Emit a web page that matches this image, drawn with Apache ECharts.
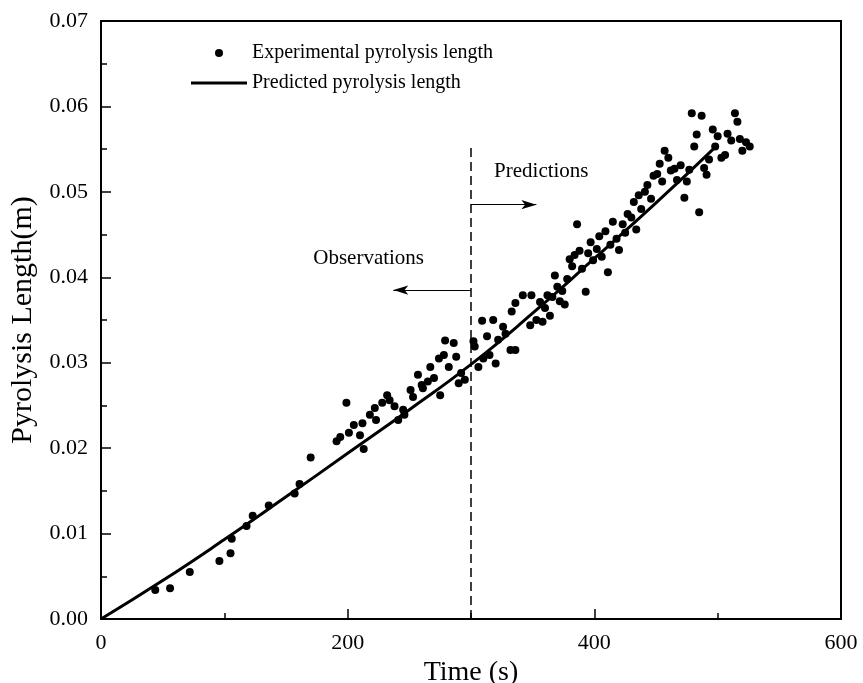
<!DOCTYPE html>
<html><head><meta charset="utf-8">
<script src="https://cdn.jsdelivr.net/npm/echarts@6/dist/echarts.min.js"></script>
<style>html,body{margin:0;padding:0;background:#fff}#c{width:863px;height:683px}</style>
</head><body><div id="c"></div>
<script>
const FONT = "'Liberation Serif','Times New Roman',serif";
const expName = 'Experimental pyrolysis length';
const predName = 'Predicted pyrolysis length';

// Experimental points [time (s), length (m)]
const experimentalPoints = [
  [44,0.0034],[56,0.0036],[72,0.0055],[96,0.0068],[105,0.0077],[106,0.0094],[118,0.0109],
  [123,0.0121],[136,0.0133],[157,0.0147],[161,0.0158],[170,0.0189],[191,0.0208],[194,0.0213],
  [199,0.0253],[201,0.0218],[205,0.0227],[210,0.0215],[212,0.0229],[213,0.0199],[218,0.0239],
  [222,0.0247],[223,0.0233],[228,0.0253],[232,0.0262],[234,0.0256],[238,0.0249],[241,0.0233],
  [245,0.0245],[246,0.0239],[251,0.0268],[253,0.0260],[257,0.0286],[260,0.0274],[261,0.0270],
  [265,0.0278],[267,0.0295],[270,0.0282],[274,0.0305],[275,0.0262],[278,0.0309],[279,0.0326],
  [282,0.0295],[286,0.0323],[288,0.0307],[290,0.0276],[292,0.0288],[295,0.0280],[302,0.0325],
  [303,0.0319],[306,0.0295],[309,0.0349],[310,0.0305],[313,0.0331],[315,0.0309],[318,0.0350],
  [320,0.0299],[322,0.0327],[326,0.0342],[328,0.0334],[332,0.0315],[333,0.0360],[336,0.0315],
  [336,0.0370],[342,0.0379],[348,0.0344],[349,0.0379],[353,0.0350],
  [356,0.0371],[358,0.0348],[360,0.0364],[362,0.0379],[364,0.0355],[366,0.0377],[368,0.0402],
  [370,0.0389],[372,0.0372],[374,0.0384],[376,0.0368],[378,0.0398],[380,0.0421],[382,0.0413],
  [384,0.0426],[386,0.0462],[388,0.0431],[390,0.0410],[393,0.0383],[395,0.0428],[397,0.0441],
  [399,0.0420],[402,0.0433],[404,0.0448],[406,0.0424],[409,0.0454],[411,0.0406],[413,0.0438],
  [415,0.0465],[418,0.0445],[420,0.0432],[423,0.0462],[425,0.0452],[427,0.0474],[430,0.0470],
  [432,0.0488],[434,0.0456],[436,0.0496],[438,0.0480],[441,0.0500],[443,0.0508],[446,0.0492],
  [448,0.0519],[451,0.0521],[453,0.0533],[455,0.0512],[457,0.0548],[460,0.0540],[462,0.0525],
  [465,0.0527],[467,0.0514],[470,0.0531],[473,0.0493],[475,0.0512],[477,0.0526],[479,0.0592],
  [481,0.0553],[483,0.0567],[485,0.0476],[487,0.0589],[489,0.0528],[491,0.0520],[493,0.0538],
  [496,0.0573],[498,0.0553],[500,0.0565],[503,0.0540],[506,0.0543],[508,0.0568],[511,0.0560],
  [514,0.0592],[516,0.0582],[518,0.0562],[520,0.0548],[523,0.0558],[526,0.0553]
];

// Predicted curve [time (s), length (m)]
const predictedPoints = [
  [0,0],[50,0.0045],[100,0.0093],[150,0.0143],[200,0.0194],[250,0.0245],
  [300,0.0298],[350,0.0358],[400,0.0422],[450,0.0487],[500,0.0555]
];

// Annotations
const splitTime = 300;
const splitTop = 0.0557;
const obsArrow = [[300,0.0385],[237,0.0385]];
const predArrow = [[300,0.0485],[353,0.0485]];
const annotations = [
  {name:'Observations', value:[217,0.0422]},
  {name:'Predictions', value:[357,0.0524]}
];

const chart = echarts.init(document.getElementById('c'), null, {renderer:'canvas'});
chart.setOption({
  animation:false,
  backgroundColor:'#fff',
  textStyle:{fontFamily:FONT, color:'#000'},
  grid:{left:101, right:22, top:21, bottom:64, containLabel:false, outerBoundsMode:'none',
        show:true, borderColor:'#000', borderWidth:2, backgroundColor:'transparent'},
  legend:{
    orient:'vertical', left:186, top:38, itemWidth:56, itemHeight:8, itemGap:10,
    data:[
      {name:expName, icon:'circle'},
      {name:predName, icon:'path://M0,0 L56,0 L56,3 L0,3 Z'}
    ],
    textStyle:{fontFamily:FONT, fontSize:20, color:'#000', lineHeight:20}
  },
  xAxis:{
    type:'value', min:0, max:600, interval:200,
    name:'Time (s)', nameLocation:'middle', nameGap:30,
    nameTextStyle:{fontFamily:FONT, fontSize:28, color:'#000'},
    axisLine:{show:true, lineStyle:{color:'#000', width:2}},
    axisTick:{show:true, inside:true, length:10, lineStyle:{color:'#000', width:1.5}},
    minorTick:{show:true, splitNumber:2, length:6, lineStyle:{color:'#000', width:1.5}},
    axisLabel:{fontFamily:FONT, fontSize:22, color:'#000', margin:13},
    splitLine:{show:false}
  },
  yAxis:{
    type:'value', min:0, max:0.07, interval:0.01,
    name:'Pyrolysis Length(m)', nameLocation:'middle', nameGap:62,
    nameTextStyle:{fontFamily:FONT, fontSize:30, color:'#000'},
    axisLine:{show:true, lineStyle:{color:'#000', width:2}},
    axisTick:{show:true, inside:true, length:10, lineStyle:{color:'#000', width:1.5}},
    minorTick:{show:true, splitNumber:2, length:6, lineStyle:{color:'#000', width:1.5}},
    axisLabel:{fontFamily:FONT, fontSize:22, color:'#000', margin:13, formatter:v=>v.toFixed(2)},
    splitLine:{show:false}
  },
  series:[
    {
      name:expName, type:'scatter', data:experimentalPoints,
      symbol:'circle', symbolSize:8, itemStyle:{color:'#000', opacity:1},
      markLine:{
        silent:true, animation:false,
        label:{show:false},
        data:[
          [{coord:[splitTime,0], symbol:'none', lineStyle:{type:[9,5], width:1.5, color:'#000'}},
           {coord:[splitTime,splitTop], symbol:'none'}],
          [{coord:obsArrow[0], symbol:'none', lineStyle:{type:'solid', width:1, color:'#000'}},
           {coord:obsArrow[1], symbol:'arrow', symbolSize:[7,15]}],
          [{coord:predArrow[0], symbol:'none', lineStyle:{type:'solid', width:1, color:'#000'}},
           {coord:predArrow[1], symbol:'arrow', symbolSize:[7,15]}]
        ]
      }
    },
    {
      name:predName, type:'line', data:predictedPoints, smooth:true,
      symbol:'none', showSymbol:false,
      lineStyle:{color:'#000', width:3}, itemStyle:{color:'#000'}, z:3
    },
    {
      name:'annot', type:'scatter', data:annotations, symbolSize:0, silent:true,
      itemStyle:{opacity:1, color:'#000'},
      label:{show:true, position:'inside', formatter:p=>p.name, fontFamily:FONT, fontSize:21,
             color:'#000', textBorderWidth:0, opacity:1}
    }
  ]
});
</script></body></html>
